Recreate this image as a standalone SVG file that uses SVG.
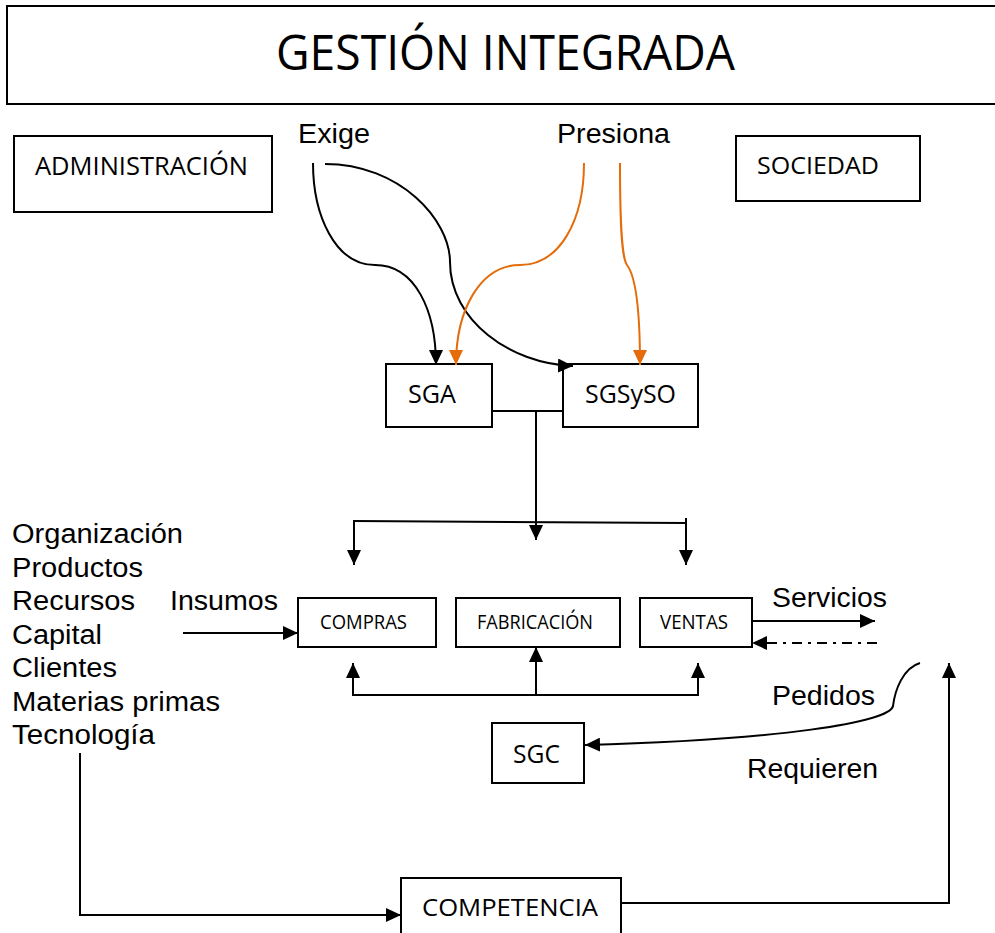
<svg xmlns="http://www.w3.org/2000/svg" width="995" height="933" viewBox="0 0 995 933">
<style>
.box{fill:#fff;stroke:#000;stroke-width:2}
.cal{font-family:"Open Sans","Noto Sans",sans-serif;fill:#000}
.ari{font-family:"Liberation Sans",Arial,sans-serif;fill:#000;font-size:27px}
.ln{fill:none;stroke:#000;stroke-width:2}
.or{fill:none;stroke:#E46C0A;stroke-width:2}
</style>
<defs>
<marker id="ah" markerUnits="userSpaceOnUse" markerWidth="16" markerHeight="14" refX="15" refY="7" orient="auto"><path d="M0,0 L15,7 L0,14 z" fill="#000"/></marker>
<marker id="aho" markerUnits="userSpaceOnUse" markerWidth="16" markerHeight="14" refX="15" refY="7" orient="auto"><path d="M0,0 L15,7 L0,14 z" fill="#E46C0A"/></marker>
</defs>
<rect width="995" height="933" fill="#fff"/>

<g id="titulo">
<path class="box" d="M1000,6 L7,6 L7,104 L1000,104"/>
<text class="cal" x="276" y="70" font-size="49" textLength="459" lengthAdjust="spacingAndGlyphs">GESTIÓN INTEGRADA</text>
</g>
<g id="administracion">
<rect class="box" x="14" y="136" width="258" height="76"/>
<text class="cal" x="35" y="175" font-size="25" textLength="213" lengthAdjust="spacingAndGlyphs">ADMINISTRACIÓN</text>
</g>
<g id="sociedad">
<rect class="box" x="736" y="136" width="184" height="65"/>
<text class="cal" x="757" y="174" font-size="24" textLength="122" lengthAdjust="spacingAndGlyphs">SOCIEDAD</text>
</g>
<g id="sga">
<rect class="box" x="386" y="364" width="106" height="63"/>
<text class="cal" x="408" y="403" font-size="25" textLength="48" lengthAdjust="spacingAndGlyphs">SGA</text>
</g>
<g id="sgsyso">
<rect class="box" x="563" y="364" width="135" height="63"/>
<text class="cal" x="585" y="403" font-size="25" textLength="91" lengthAdjust="spacingAndGlyphs">SGSySO</text>
</g>
<g id="compras">
<rect class="box" x="298" y="598" width="138" height="49"/>
<text class="cal" x="320" y="629" font-size="19.5" textLength="87" lengthAdjust="spacingAndGlyphs">COMPRAS</text>
</g>
<g id="fabricacion">
<rect class="box" x="456" y="598" width="164" height="49"/>
<text class="cal" x="477" y="629" font-size="19.5" textLength="116" lengthAdjust="spacingAndGlyphs">FABRICACIÓN</text>
</g>
<g id="ventas">
<rect class="box" x="640" y="598" width="112" height="49"/>
<text class="cal" x="660" y="629" font-size="19.5" textLength="68" lengthAdjust="spacingAndGlyphs">VENTAS</text>
</g>
<g id="sgc">
<rect class="box" x="492" y="723" width="92" height="60"/>
<text class="cal" x="513" y="763" font-size="25" textLength="47" lengthAdjust="spacingAndGlyphs">SGC</text>
</g>
<g id="competencia">
<rect class="box" x="401" y="878" width="220" height="70"/>
<text class="cal" x="422" y="916" font-size="24" textLength="176" lengthAdjust="spacingAndGlyphs">COMPETENCIA</text>
</g>
<g id="entradas">
<text class="ari" x="12" y="543" textLength="171" lengthAdjust="spacingAndGlyphs">Organización</text>
<text class="ari" x="12" y="577" textLength="131" lengthAdjust="spacingAndGlyphs">Productos</text>
<text class="ari" x="12" y="610" textLength="123" lengthAdjust="spacingAndGlyphs">Recursos</text>
<text class="ari" x="12" y="644" textLength="90" lengthAdjust="spacingAndGlyphs">Capital</text>
<text class="ari" x="12" y="677" textLength="105" lengthAdjust="spacingAndGlyphs">Clientes</text>
<text class="ari" x="12" y="711" textLength="208" lengthAdjust="spacingAndGlyphs">Materias primas</text>
<text class="ari" x="12" y="744" textLength="143" lengthAdjust="spacingAndGlyphs">Tecnología</text>
</g>

<g id="connectors">
<path class="ln" d="M313,163 C313,215 335,265 375,265 C415,265 436,310 436,365" marker-end="url(#ah)"/>
<path class="ln" d="M325,164 C400,164 450,220 450,262 C450,320 510,364 573,366" marker-end="url(#ah)"/>
<path class="or" d="M584,163 C584,220 560,265 520,265 C480,265 456,310 456,365" marker-end="url(#aho)"/>
<path class="or" d="M620,163 C620,230 622,258 627,265 C634,274 640,300 640,365" marker-end="url(#aho)"/>
<path class="ln" d="M492,411 L563,411"/>
<path class="ln" d="M536,411 L536,540" marker-end="url(#ah)"/>
<path class="ln" d="M354,521 L686,523"/>
<path class="ln" d="M354,520 L354,565" marker-end="url(#ah)"/>
<path class="ln" d="M686,518 L686,565" marker-end="url(#ah)"/>
<path class="ln" d="M353,695 L698,695"/>
<path class="ln" d="M353,696 L353,663" marker-end="url(#ah)"/>
<path class="ln" d="M536,696 L536,647" marker-end="url(#ah)"/>
<path class="ln" d="M698,696 L698,663" marker-end="url(#ah)"/>
<path class="ln" d="M183,633 L298,633" marker-end="url(#ah)"/>
<path class="ln" d="M752,621 L875,621" marker-end="url(#ah)"/>
<path class="ln" d="M877,643 L752,643" stroke-dasharray="10,6,3,6" marker-end="url(#ah)"/>
<path class="ln" d="M920,663 C903,668 895,690 893,706 C890,722 780,740 585,745" marker-end="url(#ah)"/>
<path class="ln" d="M80,753 L80,915 L401,915" marker-end="url(#ah)"/>
<path class="ln" d="M621,903 L949,903 L949,663" marker-end="url(#ah)"/>
</g>

<g id="etiquetas">
<text class="ari" x="298" y="143" textLength="72" lengthAdjust="spacingAndGlyphs">Exige</text>
<text class="ari" x="557" y="143" textLength="113" lengthAdjust="spacingAndGlyphs">Presiona</text>
<text class="ari" x="170" y="610" textLength="108" lengthAdjust="spacingAndGlyphs">Insumos</text>
<text class="ari" x="772" y="607" textLength="115" lengthAdjust="spacingAndGlyphs">Servicios</text>
<text class="ari" x="772" y="705" textLength="103" lengthAdjust="spacingAndGlyphs">Pedidos</text>
<text class="ari" x="747" y="778" textLength="131" lengthAdjust="spacingAndGlyphs">Requieren</text>
</g>
</svg>
